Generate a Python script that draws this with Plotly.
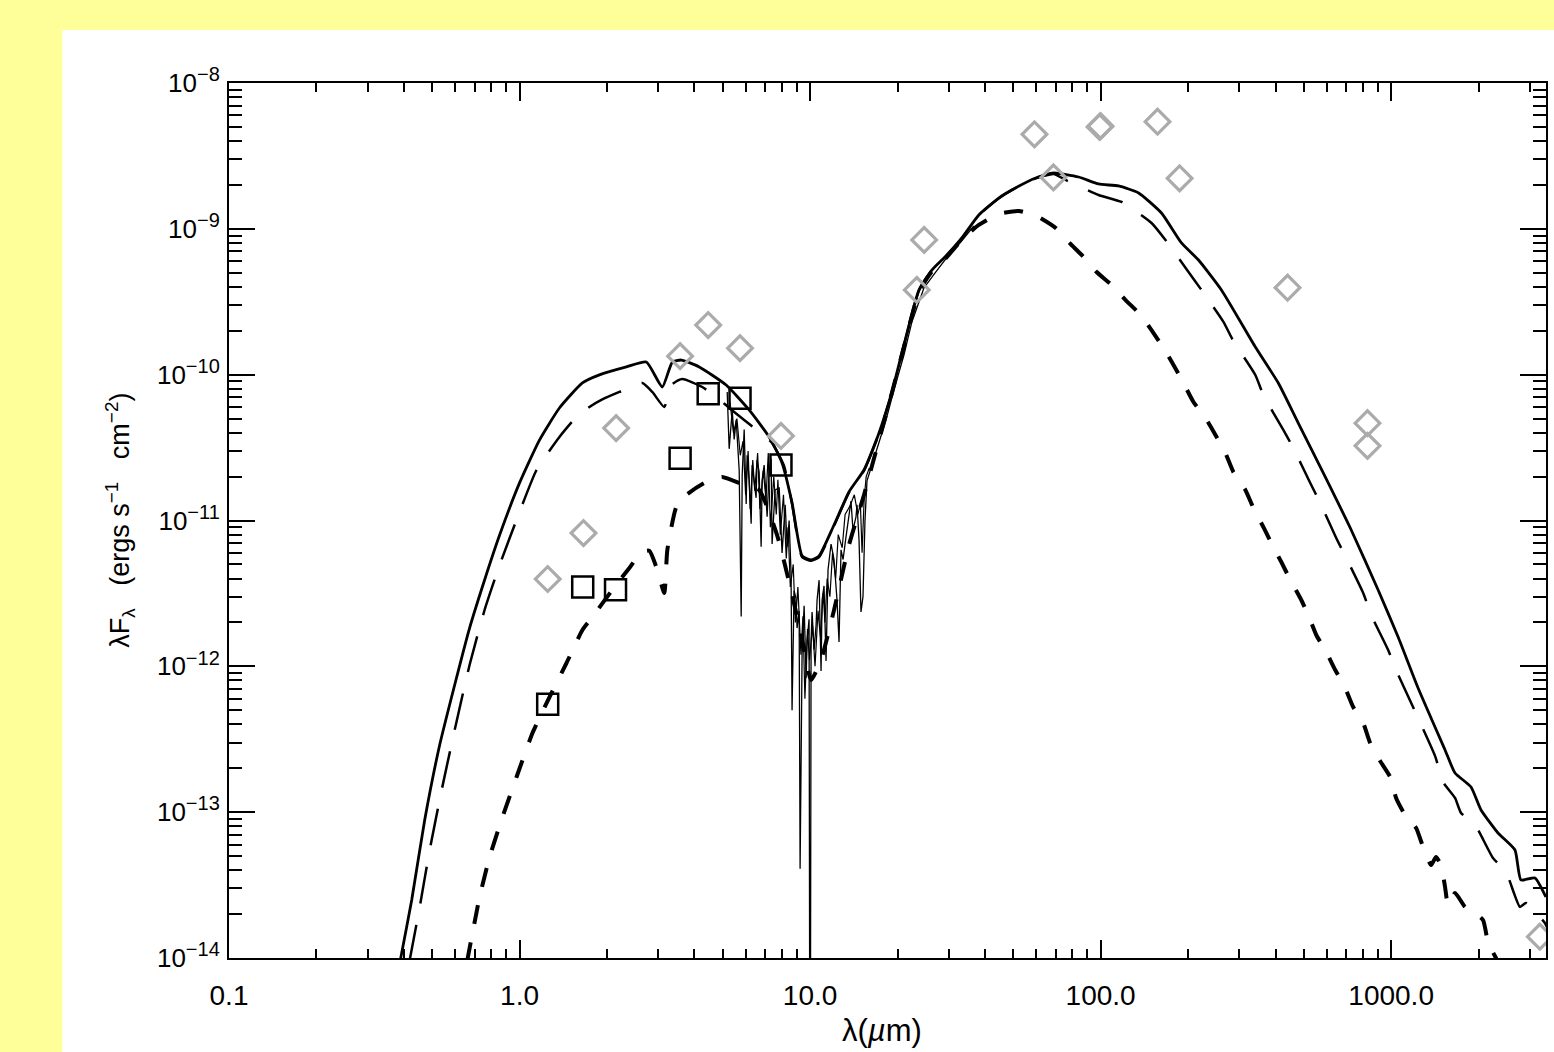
import plotly.graph_objects as go

# ---------------- data ----------------
# thick solid model
lam_A = [0.385, 0.390, 0.4255, 0.4716, 0.531, 0.598, 0.673, 0.758, 0.854, 1.0, 1.171, 1.372, 1.646, 1.883,
         2.332, 2.732, 3.10, 3.356, 3.603, 4.155, 5.143, 6.17, 7.23, 8.01, 8.67, 9.39, 10.08, 10.74, 12.09,
         13.61, 15.33, 17.27, 19.13, 21.04, 23.70, 26.26, 29.34, 33.29, 38.08, 44.63, 49.45, 59.8, 68.95,
         84.0, 98.4, 115.3, 135.1, 162.0, 189.8, 217.2, 260.5, 340.9, 408.9, 479.0, 593.2, 728.8, 902.1,
         1057, 1238, 1533, 1659, 1883, 2039, 2332, 2668, 2797, 3125, 3409]
F_A = [8.5e-15, 1.0e-14, 2.50e-14, 8.84e-14, 2.89e-13, 7.45e-13, 1.83e-12, 3.91e-12, 7.95e-12, 1.81e-11,
       3.56e-11, 5.91e-11, 8.77e-11, 9.96e-11, 1.13e-10, 1.22e-10, 8.23e-11, 1.22e-10, 1.26e-10, 1.13e-10,
       8.49e-11, 5.73e-11, 3.74e-11, 2.48e-11, 1.32e-11, 5.71e-12, 5.36e-12, 5.71e-12, 9.31e-12, 1.57e-11,
       2.22e-11, 3.98e-11, 7.61e-11, 1.60e-10, 3.81e-10, 5.22e-10, 6.51e-10, 8.66e-10, 1.245e-9, 1.627e-9,
       1.846e-9, 2.232e-9, 2.415e-9, 2.267e-9, 2.03e-9, 1.967e-9, 1.762e-9, 1.284e-9, 8.0e-10, 6.11e-10,
       3.81e-10, 1.548e-10, 8.77e-11, 4.66e-11, 1.99e-11, 8.61e-12, 3.34e-12, 1.589e-12, 7.10e-13, 2.67e-13,
       1.856e-13, 1.488e-13, 1.035e-13, 7.2e-14, 5.50e-14, 3.43e-14, 3.54e-14, 2.62e-14]

# long-dashed model
lam_B = [0.418, 0.4534, 0.4906, 0.5395, 0.598, 0.673, 0.758, 0.854, 1.0, 1.144, 1.372, 1.570, 1.740, 1.913,
         2.207, 2.647, 2.864, 3.149, 3.329, 3.632, 4.255, 4.753, 5.48, 6.42, 7.40, 8.14, 8.67, 9.39, 10.08,
         10.74, 12.09, 13.61, 15.33, 17.27, 19.13, 21.04, 23.70, 26.26, 29.34, 33.29, 38.08, 44.63, 49.45,
         59.8, 68.95, 75.8, 98.4, 118.1, 149.7, 167.2, 200.7, 222.4, 264.7, 286.4, 340.9, 363.1, 425.5,
         460.4, 526.7, 570.2, 647.1, 700.6, 801.3, 853.7, 976.6, 1040, 1416, 1509, 1659, 1740, 1945, 2241,
         2485, 2775, 2910, 3382, 3450]
F_B = [9.5e-15, 2.24e-14, 5.50e-14, 1.419e-13, 3.66e-13, 1.021e-12, 2.434e-12, 4.95e-12, 1.144e-11,
       2.22e-11, 3.74e-11, 5.13e-11, 6.0e-11, 6.71e-11, 7.61e-11, 8.77e-11, 7.61e-11, 6.0e-11, 8.49e-11,
       9.34e-11, 8.23e-11, 7.03e-11, 5.55e-11, 4.31e-11, 3.40e-11, 2.36e-11, 1.30e-11, 5.6e-12, 5.3e-12,
       5.6e-12, 9.2e-12, 1.55e-11, 2.2e-11, 3.95e-11, 7.5e-11, 1.58e-10, 3.78e-10, 5.2e-10, 6.45e-10,
       8.6e-10, 1.24e-9, 1.62e-9, 1.84e-9, 2.22e-9, 2.38e-9, 2.163e-9, 1.707e-9, 1.528e-9, 1.097e-9,
       8.39e-10, 5.06e-10, 3.81e-10, 2.30e-10, 1.70e-10, 9.95e-11, 7.25e-11, 4.18e-11, 3.14e-11, 1.81e-11,
       1.318e-11, 7.59e-12, 5.53e-12, 3.18e-12, 2.25e-12, 1.294e-12, 9.44e-13, 2.43e-13, 1.61e-13,
       1.251e-13, 9.87e-14, 8.17e-14, 4.85e-14, 3.89e-14, 2.24e-14, 2.38e-14, 1.74e-14, 1.6e-14]

# short-dashed model
lam_C = [0.66, 0.7288, 0.7889, 0.874, 0.9765, 1.108, 1.268, 1.451, 1.646, 1.782, 2.121, 2.388, 2.626, 2.797,
         2.980, 3.149, 3.226, 3.464, 3.749, 4.322, 4.985, 5.932, 6.68, 7.70, 8.60, 9.39, 10.08, 10.91, 12.09,
         13.61, 15.33, 17.27, 19.13, 21.04, 23.70, 26.26, 29.34, 33.29, 38.08, 44.63, 52.26, 60.27, 70.05,
         77.6, 87.4, 96.9, 109.1, 121.9, 137.3, 149.7, 164.6, 178.2, 192.8, 208.7, 229.5, 248.5, 268.9,
         286.4, 315.0, 335.6, 363.1, 386.7, 418.8, 449.7, 486.7, 518.6, 552.5, 597.9, 642.1, 694.9, 740.4,
         801.3, 846.9, 916.7, 992.2, 1040, 1117, 1219, 1288, 1373, 1427, 1485, 1533, 1570, 1659, 1796,
         1883, 2071, 2154, 2295, 2380]
F_C = [9.5e-15, 2.62e-14, 4.93e-14, 9.27e-14, 1.742e-13, 3.49e-13, 6.16e-13, 1.054e-12, 1.775e-12,
       2.18e-12, 3.50e-12, 4.72e-12, 6.08e-12, 6.2e-12, 4.58e-12, 3.18e-12, 6.28e-12, 1.238e-11, 1.496e-11,
       1.807e-11, 1.99e-11, 1.75e-11, 1.62e-11, 7.95e-12, 3.34e-12, 1.516e-12, 8.06e-13, 1.105e-12,
       2.43e-12, 6.79e-12, 1.496e-11, 3.56e-11, 7.5e-11, 1.55e-10, 3.7e-10, 5.1e-10, 6.3e-10, 8.39e-10,
       1.063e-9, 1.264e-9, 1.326e-9, 1.225e-9, 1.014e-9, 8.12e-10, 6.41e-10, 5.06e-10, 4.12e-10, 3.25e-10,
       2.57e-10, 2.02e-10, 1.523e-10, 1.165e-10, 8.77e-11, 6.50e-11, 5.04e-11, 3.86e-11, 2.90e-11,
       2.15e-11, 1.62e-11, 1.218e-11, 9.03e-12, 7.01e-12, 5.19e-12, 3.91e-12, 2.94e-12, 2.25e-12,
       1.64e-12, 1.254e-12, 9.44e-13, 7.10e-13, 5.26e-13, 4.09e-13, 2.98e-13, 2.24e-13, 1.742e-13,
       1.251e-13, 9.56e-14, 7.79e-14, 5.77e-14, 4.34e-14, 4.93e-14, 4.34e-14, 3.07e-14, 2.31e-14,
       2.79e-14, 2.24e-14, 2.13e-14, 1.82e-14, 1.287e-14, 1.0e-14, 8.8e-15]

# thin noisy spectrum (first)
lam_D = [5.185, 5.267, 5.395, 5.48, 5.568, 5.702, 5.793, 5.839, 5.932, 6.027, 6.074, 6.17, 6.27, 6.32,
         6.52, 6.57, 6.68, 6.785, 6.84, 6.95, 7.115, 7.23, 7.345, 7.40, 7.58, 7.83, 8.01, 8.21, 8.34, 8.47,
         8.60, 8.67, 8.81, 8.95, 9.02, 9.17, 9.24, 9.39, 9.54, 9.69, 9.765, 9.92, 10.0, 10.08, 10.16, 10.32,
         10.49, 10.57, 10.74, 10.91, 11.0, 11.17, 11.35, 11.53, 11.81, 12.09, 12.38, 12.58, 12.78, 12.99,
         13.29, 13.51, 13.83, 14.05, 14.39, 14.51, 14.74, 14.97, 15.21, 15.45, 15.70, 16.33, 17.27, 18.25,
         19.44, 21.04, 22.41, 24.65, 27.10, 30.05, 33.03, 36.6]
F_D = [7.6e-11, 3.1e-11, 5.7e-11, 3.6e-11, 4.9e-11, 2.2e-11, 2.2e-12, 2.05e-11, 4.2e-11, 1.3e-11, 2.8e-11,
       1.9e-11, 9.5e-12, 2.4e-11, 1.43e-11, 2.6e-11, 2.15e-11, 6.6e-12, 1.9e-11, 2.4e-11, 1.06e-11,
       2.2e-11, 2.64e-11, 6.9e-12, 1.62e-11, 1.67e-11, 6.0e-12, 1.28e-11, 6.6e-12, 1.0e-11, 4.4e-12,
       5.0e-13, 3.3e-12, 2.9e-12, 1.83e-12, 2.4e-12, 4.1e-14, 1.3e-12, 2.6e-12, 8.3e-13, 1.5e-12, 2.1e-12,
       1e-16, 1.5e-12, 2.36e-12, 1.3e-12, 1.92e-12, 2.85e-12, 3.9e-12, 9.3e-13, 2.85e-12, 3.56e-12,
       1.09e-12, 4.6e-12, 6.9e-12, 5.4e-12, 2.85e-12, 1.47e-12, 6.3e-12, 5.4e-12, 7.7e-12, 1.0e-11,
       1.36e-11, 8.6e-12, 1.06e-11, 1.28e-11, 7.35e-12, 2.36e-12, 3.0e-12, 9.9e-12, 1.87e-11, 2.4e-11,
       3.4e-11, 4.89e-11, 7.85e-11, 1.365e-10, 2.30e-10, 3.93e-10, 5.06e-10, 6.62e-10, 8.12e-10, 1.046e-9]

# thin noisy spectrum (second, overlapping)
lam_D2 = [5.30, 5.45, 5.60, 5.75, 5.88, 6.00, 6.12, 6.22, 6.35, 6.45, 6.60, 6.72, 6.90, 7.05, 7.18, 7.30,
          7.50, 7.65, 7.75, 7.90, 8.10, 8.28, 8.40, 8.55, 8.75, 8.90, 9.08, 9.30, 9.45, 9.60, 9.80, 9.95,
          10.2, 10.4, 10.65, 10.85, 11.1, 11.25, 11.45, 11.7, 11.95, 12.25, 12.5, 12.9, 13.2, 13.7, 14.2,
          14.6, 14.9, 15.1, 15.35, 15.6, 16.0]
F_D2 = [6.5e-11, 4.0e-11, 5.0e-11, 2.8e-11, 3.5e-11, 1.5e-11, 3.0e-11, 1.2e-11, 2.6e-11, 1.6e-11, 2.9e-11,
        1.2e-11, 2.2e-11, 1.4e-11, 2.9e-11, 9.0e-12, 2.0e-11, 1.1e-11, 1.9e-11, 8.0e-12, 1.5e-11, 5.5e-12,
        9.0e-12, 3.5e-12, 5.0e-12, 2.0e-12, 3.5e-12, 1.2e-12, 2.2e-12, 6.0e-13, 1.8e-12, 1.1e-12, 1.9e-12,
        1.0e-12, 2.4e-12, 1.6e-12, 3.2e-12, 2.0e-12, 4.0e-12, 3.0e-12, 6.0e-12, 4.0e-12, 8.0e-12, 6.5e-12,
        1.1e-11, 1.25e-11, 1.5e-11, 1.1e-11, 1.3e-11, 6.0e-12, 1.4e-11, 2.0e-11, 2.3e-11]

# photometry: black squares
lam_sq = [1.25, 1.65, 2.14, 3.57, 4.46, 5.74, 7.94]
F_sq = [5.5e-13, 3.5e-12, 3.35e-12, 2.67e-11, 7.4e-11, 6.9e-11, 2.4e-11]

# photometry: grey diamonds
lam_di = [1.25, 1.66, 2.15, 3.57, 4.46, 5.74, 7.94, 23.3, 24.7, 59.2, 68.8, 99.2, 100.0, 157, 187,
          440, 829, 829, 3250]
F_di = [3.97e-12, 8.2e-12, 4.3e-11, 1.34e-10, 2.19e-10, 1.52e-10, 3.8e-11, 3.81e-10, 8.4e-10, 4.45e-9,
        2.25e-9, 5.0e-9, 5.06e-9, 5.43e-9, 2.22e-9, 3.95e-10, 4.65e-11, 3.25e-11, 1.4e-14]

# axis ticks
x_tickvals = [0.1, 1, 10, 100, 1000]
x_ticktext = ["0.1", "1.0", "10.0", "100.0", "1000.0"]
y_tickvals = [1e-14, 1e-13, 1e-12, 1e-11, 1e-10, 1e-9, 1e-8]
y_exponents = ["\u221214", "\u221213", "\u221212", "\u221211", "\u221210", "\u22129", "\u22128"]
y_ticktext = ["10<sup><span style='font-size:20px'>" + e + "</span></sup>" for e in y_exponents]
x_minor = [k * 10.0 ** n for n in range(-1, 4) for k in range(2, 10)]
y_minor = [k * 10.0 ** n for n in range(-14, -8) for k in range(2, 10)]

# ---------------- figure ----------------
FONT = "Liberation Sans, Arial, Helvetica, sans-serif"
fig = go.Figure()
fig.add_trace(go.Scatter(x=lam_D2, y=F_D2, mode="lines", line=dict(color="black", width=1.2)))
fig.add_trace(go.Scatter(x=lam_D, y=F_D, mode="lines", line=dict(color="black", width=1.3)))
fig.add_trace(go.Scatter(x=lam_C, y=F_C, mode="lines",
                         line=dict(color="black", width=4, dash="19px,19px", shape="spline", smoothing=0.5)))
fig.add_trace(go.Scatter(x=lam_B, y=F_B, mode="lines",
                         line=dict(color="black", width=2.5, dash="37px,22px", shape="spline", smoothing=0.5)))
fig.add_trace(go.Scatter(x=lam_A, y=F_A, mode="lines",
                         line=dict(color="black", width=2.8, shape="spline", smoothing=0.5)))
fig.add_trace(go.Scatter(x=lam_di, y=F_di, mode="markers",
                         marker=dict(symbol="diamond-open", size=19, color="#ABABAB",
                                     line=dict(width=3.2, color="#ABABAB"))))
fig.add_trace(go.Scatter(x=lam_sq, y=F_sq, mode="markers",
                         marker=dict(symbol="square-open", size=21, color="black",
                                     line=dict(width=2.5, color="black"))))

axis_common = dict(showline=True, linewidth=2, linecolor="black", mirror="ticks", ticks="inside",
                   tickwidth=2, tickcolor="black", showgrid=False, zeroline=False)

fig.update_xaxes(type="log", range=[-1, 3.533], tickvals=x_tickvals, ticktext=x_ticktext, ticklen=18,
                 minor=dict(tickvals=x_minor, ticks="inside", ticklen=9, tickwidth=2, tickcolor="black",
                            showgrid=False),
                 tickfont=dict(family=FONT, size=28, color="black"),
                 ticklabelstandoff=11, **axis_common)
fig.update_yaxes(type="log", range=[-14, -8], tickvals=y_tickvals, ticktext=y_ticktext, ticklen=26,
                 minor=dict(tickvals=y_minor, ticks="inside", ticklen=13, tickwidth=2, tickcolor="black",
                            showgrid=False),
                 tickfont=dict(family=FONT, size=26, color="black"),
                 ticklabelstandoff=2, **axis_common)

NB = "\u00a0"
fig.update_layout(
    width=1554, height=1052,
    margin=dict(l=229, r=6, t=83, b=94),
    paper_bgcolor="#FFFF99", plot_bgcolor="white",
    showlegend=False,
    font=dict(family=FONT, color="black"),
    shapes=[dict(type="rect", xref="paper", yref="paper", x0=-0.1266, x1=1.02, y0=-0.2, y1=1.0606,
                 fillcolor="white", line=dict(width=0), layer="below")],
    annotations=[
        dict(text="\u03bb(<i>\u00b5</i>m)", xref="paper", yref="paper", x=0.4958, y=-0.0823,
             xanchor="center", yanchor="middle", showarrow=False,
             font=dict(family=FONT, size=31, color="black")),
        dict(text="\u03bbF<sub>\u03bb</sub>" + NB * 3 + "(ergs s<sup>\u22121</sup>" + NB * 3 +
                  "cm<sup>\u22122</sup>)",
             xref="paper", yref="paper",
             x=-0.0834, y=0.5, xanchor="center", yanchor="middle", textangle=-90, showarrow=False,
             font=dict(family=FONT, size=27, color="black")),
    ],
)

fig.write_html("out.html", config={"displayModeBar": False},
               post_script="document.body.style.margin='0px';document.body.style.padding='0px';"
                           "document.body.style.overflow='hidden';")
